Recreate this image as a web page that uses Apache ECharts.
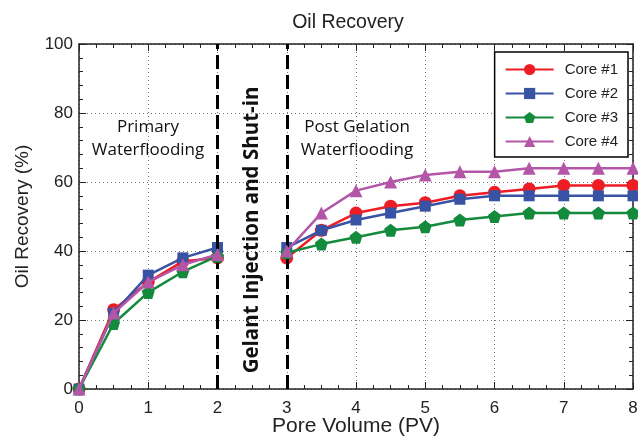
<!DOCTYPE html>
<html><head><meta charset="utf-8">
<script src="https://cdn.jsdelivr.net/npm/echarts@6/dist/echarts.min.js"></script>
<style>html,body{margin:0;padding:0;background:#fff}#c{width:638px;height:439px}</style>
</head><body><div id="c"></div>
<script>
var xPrimary = [0, 0.5, 1, 1.5, 2];
var xPost = [3, 3.5, 4, 4.5, 5, 5.5, 6, 6.5, 7, 7.5, 8];
var names = ['Core #1', 'Core #2', 'Core #3', 'Core #4'];
var core1Primary = [0, 23, 31, 37, 38];
var core1Post = [38, 46, 51, 53, 54, 56, 57, 58, 59, 59, 59];
var core2Primary = [0, 22, 33, 38, 41];
var core2Post = [41, 46, 49, 51, 53, 55, 56, 56, 56, 56, 56];
var core3Primary = [0, 19, 28, 34, 38.5];
var core3Post = [39.5, 42, 44, 46, 47, 49, 50, 51, 51, 51, 51];
var core4Primary = [0, 22, 31, 36, 39];
var core4Post = [40, 51, 57.5, 60, 62, 63, 63, 64, 64, 64, 64];
var xTicks = [0, 1, 2, 3, 4, 5, 6, 7, 8];
var yTicks = [0, 20, 40, 60, 80, 100];
var phaseBounds = [2, 3];

var colors = ['#ee1d24', '#3953a4', '#138a3c', '#b456a8'];
var pent = 'path://M0,-1 L0.951,-0.309 L0.588,0.809 L-0.588,0.809 L-0.951,-0.309 Z';
var symbols = ['circle', 'rect', pent, 'triangle'];
var sizes = [13, 11, 13, 13];
var prim = [core1Primary, core2Primary, core3Primary, core4Primary];
var post = [core1Post, core2Post, core3Post, core4Post];

function pairs(xs, ys) { return xs.map(function (x, i) { return [x, ys[i]]; }); }

var series = [];
var order = [3, 2, 1, 0];
order.forEach(function (k) {
  [pairs(xPrimary, prim[k]), pairs(xPost, post[k])].forEach(function (d) {
    series.push({
      type: 'line', name: names[k], data: d, symbol: symbols[k], symbolSize: sizes[k],
      itemStyle: { color: colors[k] }, lineStyle: { color: colors[k], width: 2.5 },
      z: 3 + k, animation: false
    });
  });
});
series.push({
  type: 'line', data: [], silent: true,
  markLine: {
    symbol: 'none', silent: true, animation: false, label: { show: false },
    lineStyle: { color: '#000', width: 3, type: [14, 6] },
    data: phaseBounds.map(function (v) { return { xAxis: v }; })
  }
});

var axisLblStyle = { color: '#222', fontSize: 17, fontFamily: 'Liberation Sans, Arial' };
function xAx(pos, show) {
  return {
    type: 'value', position: pos, min: 0, max: 8, interval: 1,
    axisLine: { show: true, onZero: false, lineStyle: { color: '#222', width: 1.5 } },
    axisTick: { show: true, inside: true, length: 7, lineStyle: { color: '#222' } },
    minorTick: { show: true, splitNumber: 4, length: 4, lineStyle: { color: '#222' } },
    axisLabel: show ? Object.assign({ margin: 11 }, axisLblStyle) : { show: false },
    splitLine: { show: show, lineStyle: { color: '#777', type: [1, 3], width: 1 } },
    name: show ? 'Pore Volume (PV)' : '', nameLocation: 'middle', nameGap: 27, nameMoveOverlap: false,
    nameTextStyle: { color: '#222', fontSize: 21, fontFamily: 'Liberation Sans, Arial' }
  };
}
function yAx(pos, show) {
  return {
    type: 'value', position: pos, min: 0, max: 100, interval: 20,
    axisLine: { show: true, onZero: false, lineStyle: { color: '#222', width: 1.5 } },
    axisTick: { show: true, inside: true, length: 7, lineStyle: { color: '#222' } },
    minorTick: { show: true, splitNumber: 5, length: 4, lineStyle: { color: '#222' } },
    axisLabel: show ? Object.assign({ margin: 6 }, axisLblStyle) : { show: false },
    splitLine: { show: show, lineStyle: { color: '#777', type: [1, 3], width: 1 } },
    name: show ? 'Oil Recovery (%)' : '', nameLocation: 'middle', nameGap: 47, nameMoveOverlap: false,
    nameTextStyle: { color: '#222', fontSize: 19, fontFamily: 'Liberation Sans, Arial' }
  };
}

var annoFont = 'Open Sans, Lato, sans-serif';
var chart = echarts.init(document.getElementById('c'), null, { renderer: 'canvas' });
chart.setOption({
  animation: false,
  backgroundColor: '#fff',
  title: {
    text: 'Oil Recovery', left: 343, top: 8, textAlign: 'center',
    textStyle: { color: '#222', fontSize: 19.5, fontWeight: 'normal', fontFamily: 'Liberation Sans, Arial' }
  },
  grid: { left: 79, right: 5, top: 44, bottom: 50, containLabel: false, outerBoundsMode: 'none' },
  xAxis: [xAx('bottom', true), xAx('top', false)],
  yAxis: [yAx('left', true), yAx('right', false)],
  legend: {
    data: names, orient: 'vertical', right: 10, top: 52,
    backgroundColor: '#fff', borderColor: '#000', borderWidth: 1.5, borderRadius: 0,
    padding: [10, 10, 8, 10], itemGap: 9, itemWidth: 48, itemHeight: 14,
    textStyle: { color: '#222', fontSize: 15, fontFamily: 'Liberation Sans, Arial', padding: [0, 0, 0, 6] }
  },
  graphic: [
    { type: 'text', x: 148, y: 116, style: { text: 'Primary\nWaterflooding', textAlign: 'center', textVerticalAlign: 'top', fill: '#111', font: '17px ' + annoFont, lineHeight: 23 } },
    { type: 'text', x: 357, y: 116, style: { text: 'Post Gelation\nWaterflooding', textAlign: 'center', textVerticalAlign: 'top', fill: '#111', font: '17px ' + annoFont, lineHeight: 23 } },
    { type: 'text', x: 252, y: 230, rotation: Math.PI / 2, style: { text: 'Gelant Injection and Shut-in', textAlign: 'center', textVerticalAlign: 'middle', fill: '#111', font: 'bold 20.5px ' + annoFont } }
  ],
  series: series
});
</script></body></html>
